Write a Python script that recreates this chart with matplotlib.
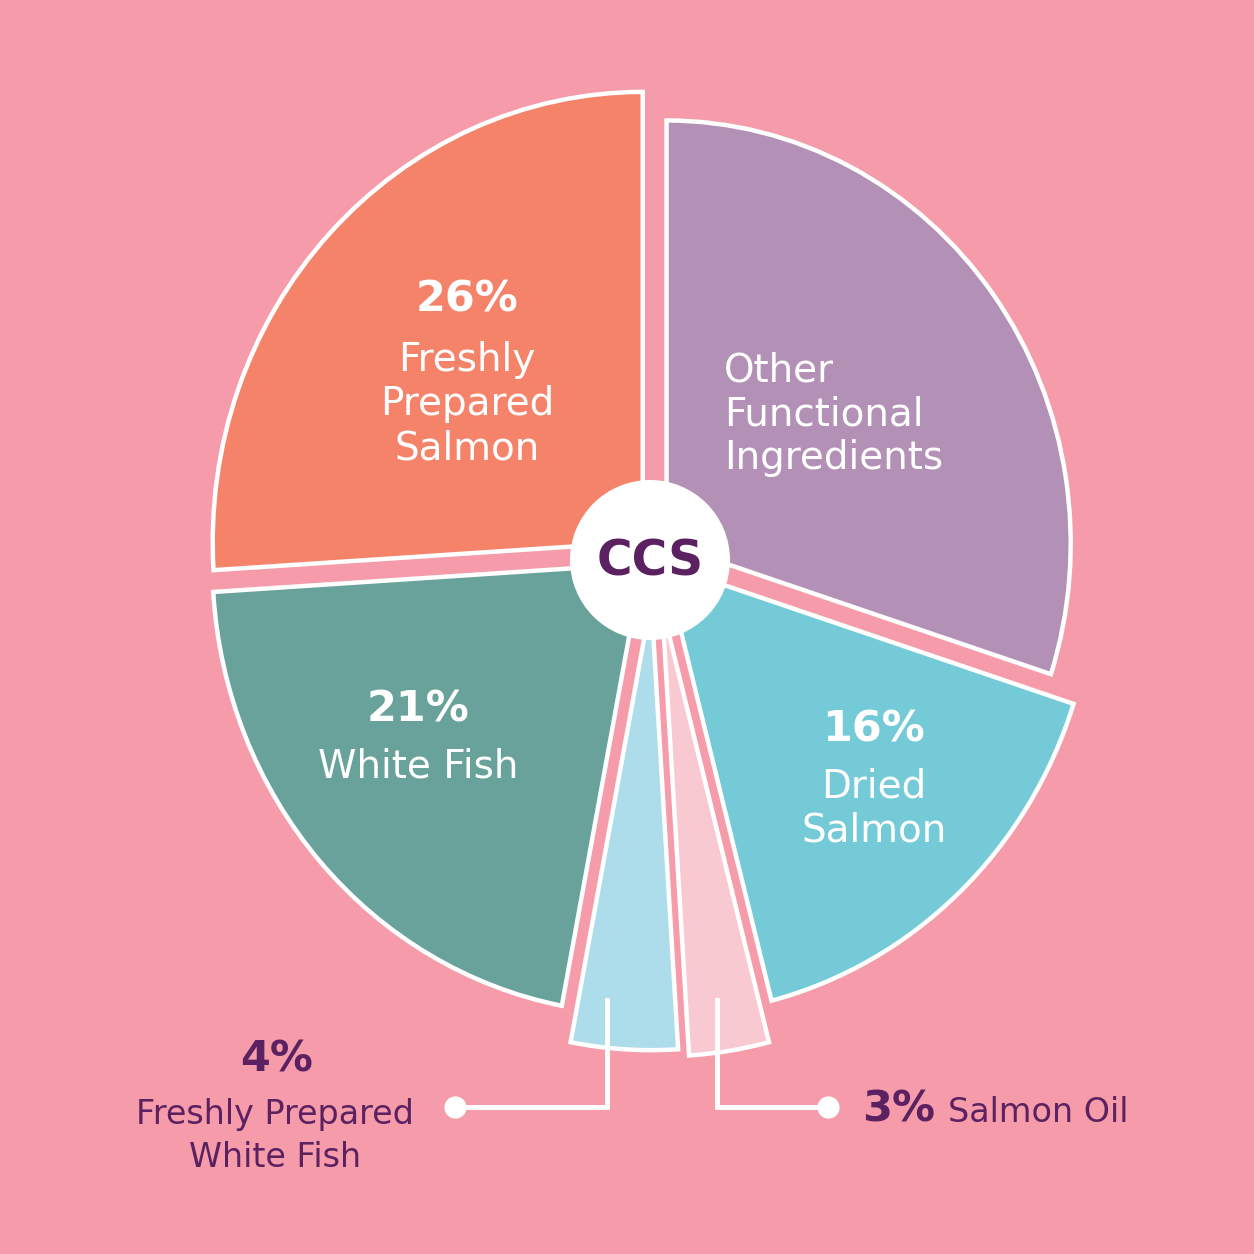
import matplotlib.pyplot as plt
from matplotlib.patches import Circle

# data
labels = ['Freshly Prepared Salmon', 'White Fish', 'Freshly Prepared White Fish',
          'Salmon Oil', 'Dried Salmon', 'Other Functional Ingredients']
shares = [26, 21, 4, 3, 16, 30]
colors = ['#F5836A', '#68A29A', '#ADDCEB', '#F8C9D1', '#74CAD6', '#B391B6']
explode = [0.036, 0.036, 0.105, 0.12, 0.036, 0.036]

bg = '#F59BAA'
dark = '#5B2160'
W = H = 1254

plt.rcParams['font.family'] = ['DejaVu Sans']

fig = plt.figure(figsize=(12.54, 12.54), dpi=100, facecolor=bg)

# pie axes, placed in pixel terms (the drawing is slightly taller than wide)
cx, cy = 654, 553
rx, ry = 430, 450
axp = fig.add_axes([(cx - 1.2 * rx) / W, (H - cy - 1.2 * ry) / H,
                    2.4 * rx / W, 2.4 * ry / H])
wedges, _ = axp.pie(shares, colors=colors, explode=explode, startangle=90,
                    counterclock=True, radius=1,
                    wedgeprops=dict(edgecolor='white', linewidth=3.2, joinstyle='miter'))
wedges[5].set_radius(0.94)
axp.set_aspect('auto')
axp.set_xlim(-1.2, 1.2)
axp.set_ylim(-1.2, 1.2)
axp.axis('off')

# overlay axes in image pixels
ax = fig.add_axes([0, 0, 1, 1])
ax.set_xlim(0, W)
ax.set_ylim(0, H)
ax.axis('off')

# centre badge
ax.add_patch(Circle((650, H - 560), 80, facecolor='white', edgecolor='none', zorder=5))
ax.text(650, H - 562, 'CCS', color=dark, fontsize=35, fontweight='bold',
        ha='center', va='center', zorder=6)


def txt(x, y, s, **kw):
    ax.text(x, H - y, s, ha=kw.pop('ha', 'center'), va='center', **kw)


# inside labels
txt(467, 300, '26%', color='white', fontsize=31, fontweight='bold')
txt(467, 404, 'Freshly\nPrepared\nSalmon', color='white', fontsize=28, linespacing=1.2)
txt(724, 414, 'Other\nFunctional\nIngredients', color='white', fontsize=28,
    linespacing=1.2, ha='left')
txt(418, 710, '21%', color='white', fontsize=31, fontweight='bold')
txt(418, 766, 'White Fish', color='white', fontsize=28)
txt(874, 730, '16%', color='white', fontsize=31, fontweight='bold')
txt(874, 808, 'Dried\nSalmon', color='white', fontsize=28, linespacing=1.2)

# outside labels
txt(277, 1060, '4%', color=dark, fontsize=31, fontweight='bold')
txt(275, 1136, 'Freshly Prepared\nWhite Fish', color=dark, fontsize=24, linespacing=1.35)
txt(862, 1110, '3%', color=dark, fontsize=31, fontweight='bold', ha='left')
txt(948, 1113, 'Salmon Oil', color=dark, fontsize=24, ha='left')

# leader lines
ax.plot([607, 607, 455], [H - 1000, H - 1107, H - 1107], color='white', lw=3.5,
        solid_joinstyle='miter', zorder=4)
ax.plot([717, 717, 828], [H - 1000, H - 1107, H - 1107], color='white', lw=3.5,
        solid_joinstyle='miter', zorder=4)
ax.plot([455, 828], [H - 1107, H - 1107], 'o', color='white', ms=15, zorder=4)

fig.savefig('out.png', dpi=100, facecolor=bg)
